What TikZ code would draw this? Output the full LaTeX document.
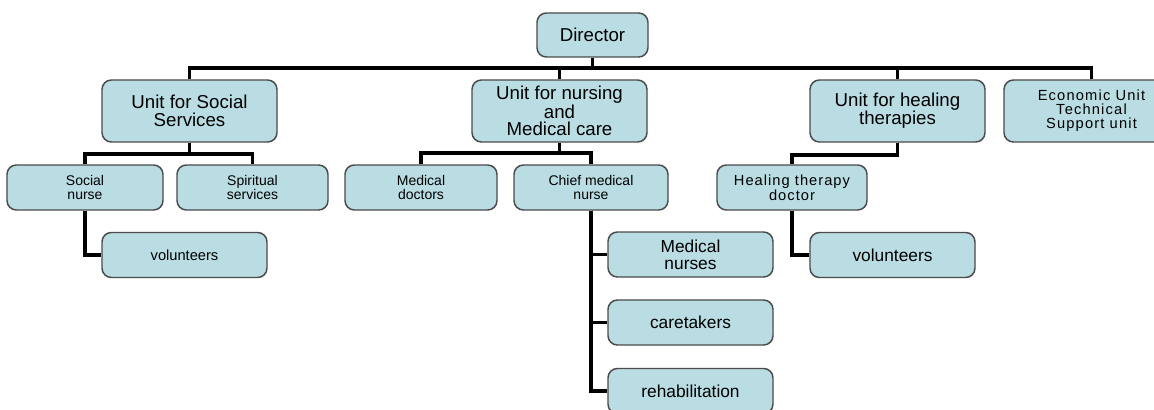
\documentclass[tikz,border=0pt]{standalone}
\usepackage{fontspec}
\setmainfont{Liberation Sans}
\definecolor{boxfill}{RGB}{185,221,227}
\definecolor{boxline}{RGB}{75,75,75}
\begin{document}
\begin{tikzpicture}[x=0.75pt,y=-0.75pt,
  orgbox/.style={draw=boxline, line width=1.1pt, fill=boxfill, rounded corners=7pt,
    align=center, inner sep=1pt, anchor=center},
  bigbox/.style={orgbox, minimum width=131.25pt, minimum height=46.5pt,
    font=\fontsize{14}{13.5}\selectfont},
  smallbox/.style={orgbox, minimum height=33.75pt,
    font=\fontsize{10.5}{10}\selectfont},
  midbox/.style={orgbox, minimum width=123.75pt, minimum height=33.75pt,
    font=\fontsize{13}{13}\selectfont},
  conn/.style={draw=black, line width=2.3pt}]
\useasboundingbox (0,0) rectangle (1154,410);
\clip (0,0) rectangle (1154,410);
\fill[white] (0,0) rectangle (1154,410);
% nodes
\node[orgbox, minimum width=83.25pt, minimum height=33pt, font=\fontsize{14}{14}\selectfont] (dir) at (592.5,35) {Director};
\node[bigbox] (soc) at (189.5,111) {Unit for Social\\Services};
\node[bigbox, font=\fontsize{14}{13}\selectfont] (nur) at (559.5,111) {Unit for nursing\\and\\Medical care};
\node[bigbox] (heal) at (897.5,111) {Unit for healing\\therapies};
\node[bigbox, font=\fontsize{11}{10.5}\selectfont\addfontfeature{LetterSpace=8}] (econ) at (1091.5,111) {Economic Unit\\Technical\\Support unit};
\node[smallbox, minimum width=117pt] (snur) at (85,187.5) {Social\\nurse};
\node[smallbox, minimum width=113.25pt] (spir) at (252.5,187.5) {Spiritual\\services};
\node[smallbox, minimum width=114pt] (mdoc) at (421,187.5) {Medical\\doctors};
\node[smallbox, minimum width=115.5pt] (chief) at (591,187.5) {Chief medical\\nurse};
\node[smallbox, minimum width=112.5pt, font=\fontsize{11}{11}\selectfont\addfontfeature{LetterSpace=7}] (hdoc) at (792,187.5) {Healing therapy\\doctor};
\node[smallbox, minimum width=123.75pt, font=\fontsize{11}{11}\selectfont] (volL) at (184.5,255) {volunteers};
\node[midbox] (volR) at (892.5,255) {volunteers};
\node[midbox] (mnur) at (690.5,254.5) {Medical\\nurses};
\node[midbox] (care) at (690.5,322.5) {caretakers};
\node[midbox] (rehab) at (690.5,391) {rehabilitation};
% bar coordinates
\coordinate (bar) at (0,68);
\coordinate (sb) at (0,154);
\coordinate (nb) at (0,153);
\coordinate (hb) at (0,155);
% connectors
\draw[conn] (soc.north) -- (soc.north |- bar) -- (econ.north |- bar) -- (econ.north);
\draw[conn] (dir.south) -- (dir.south |- bar);
\draw[conn] (nur.north) -- (nur.north |- bar);
\draw[conn] (heal.north) -- (heal.north |- bar);
\draw[conn] (soc.south) -- (soc.south |- sb);
\draw[conn] (snur.north) -- (snur.north |- sb) -- (spir.north |- sb) -- (spir.north);
\draw[conn] (snur.south) |- (volL.west);
\draw[conn] (nur.south) -- (nur.south |- nb);
\draw[conn] (mdoc.north) -- (mdoc.north |- nb) -- (chief.north |- nb) -- (chief.north);
\draw[conn] (chief.south) |- (mnur.west);
\draw[conn] (chief.south) |- (care.west);
\draw[conn] (chief.south) |- (rehab.west);
\draw[conn] (heal.south) -- (heal.south |- hb) -| (hdoc.north);
\draw[conn] (hdoc.south) |- (volR.west);
\end{tikzpicture}
\end{document}
